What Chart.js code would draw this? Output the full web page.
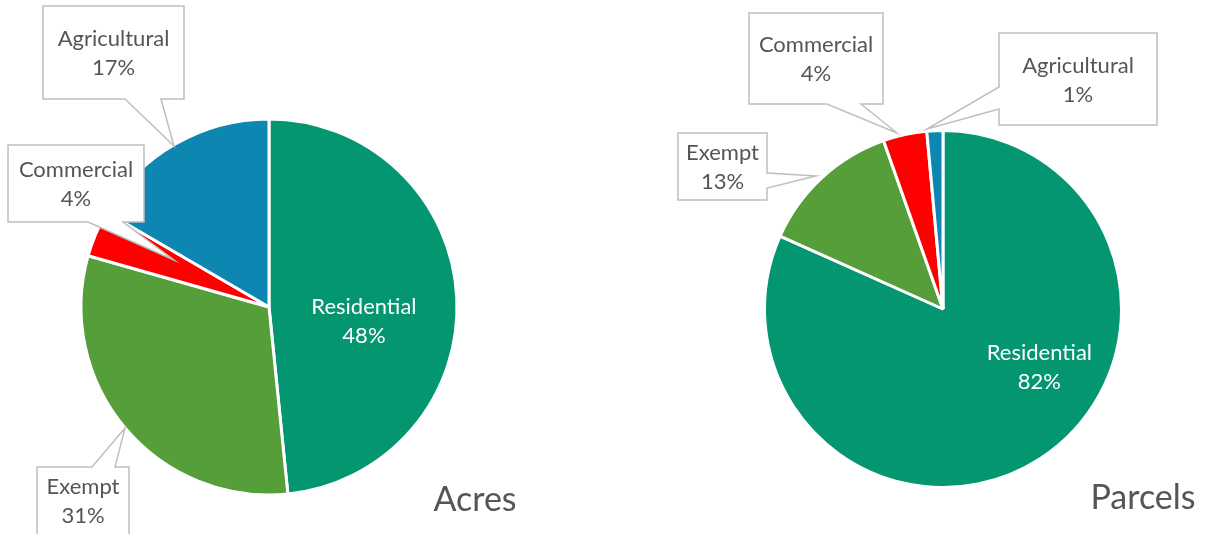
<!DOCTYPE html>
<html>
<head>
<meta charset="utf-8">
<script src="https://cdn.jsdelivr.net/npm/chart.js@4.4.1/dist/chart.umd.min.js"></script>
<style>
  html, body { margin: 0; padding: 0; background: #fff; }
  #wrap { position: relative; width: 1205px; height: 534px; overflow: hidden; }
  #wrap canvas { position: absolute; left: 0; top: 0; }
</style>
</head>
<body>
<div id="wrap">
  <canvas id="acresChart" width="1205" height="534"></canvas>
  <canvas id="parcelsChart" width="1205" height="534"></canvas>
</div>
<script>
const categories = ['Residential', 'Exempt', 'Commercial', 'Agricultural'];
const acresValues = [48.4, 31.0, 4.0, 16.6];
const parcelsValues = [81.7, 12.9, 3.95, 1.45];
const sliceColors = ['#049571', '#559E3A', '#FF0000', '#0D87B1'];

const FONT = 'Lato, "Open Sans", sans-serif';
const TEXT_GRAY = '#555555';

// callout boxes are page layout, not data: box rect, pointer side/base/tip
const acresCallouts = {
  title: { text: 'Acres', x: 475, y: 511 },
  inside: { index: 0, dx: 0.505, dy: 0.075 },
  boxes: {
    3: { x: 43, y: 6, w: 141, h: 93, side: 'bottom', a: 125, b: 161, tip: [174, 146] },
    2: { x: 8, y: 145, w: 136, h: 77, side: 'bottom', a: 88, b: 123, tip: [174, 260] },
    1: { x: 37, y: 467, w: 92, h: 80, side: 'top', a: 92, b: 115, tip: [125, 428], textTop: 472 }
  }
};
const parcelsCallouts = {
  title: { text: 'Parcels', x: 1143, y: 509 },
  inside: { index: 0, dx: 0.54, dy: 0.33 },
  boxes: {
    2: { x: 749, y: 13, w: 134, h: 91, side: 'bottom', a: 827, b: 861, tip: [897, 133] },
    3: { x: 999, y: 33, w: 158, h: 92, side: 'left', a: 87, b: 109, tip: [927, 129] },
    1: { x: 678, y: 133, w: 89, h: 67, side: 'right', a: 173, b: 188, tip: [816, 176] }
  }
};

function calloutPath(ctx, c) {
  const x = c.x, y = c.y, r = c.x + c.w, btm = c.y + c.h;
  ctx.beginPath();
  ctx.moveTo(x, y);
  if (c.side === 'top') {
    ctx.lineTo(c.a, y); ctx.lineTo(c.tip[0], c.tip[1]); ctx.lineTo(c.b, y);
  }
  ctx.lineTo(r, y);
  if (c.side === 'right') {
    ctx.lineTo(r, c.a); ctx.lineTo(c.tip[0], c.tip[1]); ctx.lineTo(r, c.b);
  }
  ctx.lineTo(r, btm);
  if (c.side === 'bottom') {
    ctx.lineTo(c.b, btm); ctx.lineTo(c.tip[0], c.tip[1]); ctx.lineTo(c.a, btm);
  }
  ctx.lineTo(x, btm);
  if (c.side === 'left') {
    ctx.lineTo(x, c.b); ctx.lineTo(c.tip[0], c.tip[1]); ctx.lineTo(x, c.a);
  }
  ctx.closePath();
}

const calloutPlugin = {
  id: 'callouts',
  afterDatasetsDraw(chart, args, opts) {
    const ctx = chart.ctx;
    const values = chart.data.datasets[0].data;
    const total = values.reduce((s, v) => s + v, 0);
    const lines = i => [chart.data.labels[i], Math.round(values[i] / total * 100) + '%'];
    const lineH = 29;

    ctx.save();
    ctx.font = '22px ' + FONT;
    ctx.textAlign = 'center';
    ctx.textBaseline = 'middle';

    Object.keys(opts.boxes).forEach(k => {
      const c = opts.boxes[k];
      calloutPath(ctx, c);
      ctx.fillStyle = '#fff';
      ctx.fill();
      ctx.strokeStyle = '#BFBFBF';
      ctx.lineWidth = 1.5;
      ctx.stroke();
      const t = lines(+k);
      const cx = c.x + c.w / 2;
      const cy = c.textTop !== undefined ? c.textTop + lineH / 2 : c.y + c.h / 2 - lineH / 2 + 1;
      ctx.fillStyle = TEXT_GRAY;
      t.forEach((s, j) => ctx.fillText(s, cx, cy + j * lineH));
    });

    // label drawn inside the big slice
    const arc = chart.getDatasetMeta(0).data[opts.inside.index];
    const R = arc.outerRadius;
    const ix = arc.x + opts.inside.dx * R;
    const iy = arc.y + opts.inside.dy * R;
    ctx.fillStyle = '#fff';
    lines(opts.inside.index).forEach((s, j) => ctx.fillText(s, ix, iy - lineH / 2 + j * lineH));

    ctx.font = '34px ' + FONT;
    ctx.fillStyle = TEXT_GRAY;
    ctx.textBaseline = 'alphabetic';
    ctx.fillText(opts.title.text, opts.title.x, opts.title.y);
    ctx.restore();
  }
};

function makePie(id, values, padding, callouts) {
  return new Chart(document.getElementById(id), {
    type: 'pie',
    data: {
      labels: categories,
      datasets: [{
        data: values,
        backgroundColor: sliceColors,
        borderColor: '#ffffff',
        borderWidth: 3,
        hoverOffset: 0
      }]
    },
    options: {
      responsive: false,
      animation: false,
      events: [],
      layout: { padding: padding },
      plugins: {
        legend: { display: false },
        tooltip: { enabled: false },
        callouts: callouts
      }
    },
    plugins: [calloutPlugin]
  });
}

makePie('acresChart', acresValues,
  { left: 79.5, top: 117.5, right: 746.5, bottom: 37.5 }, acresCallouts);
makePie('parcelsChart', parcelsValues,
  { left: 763, top: 129, right: 82, bottom: 45 }, parcelsCallouts);
</script>
</body>
</html>
